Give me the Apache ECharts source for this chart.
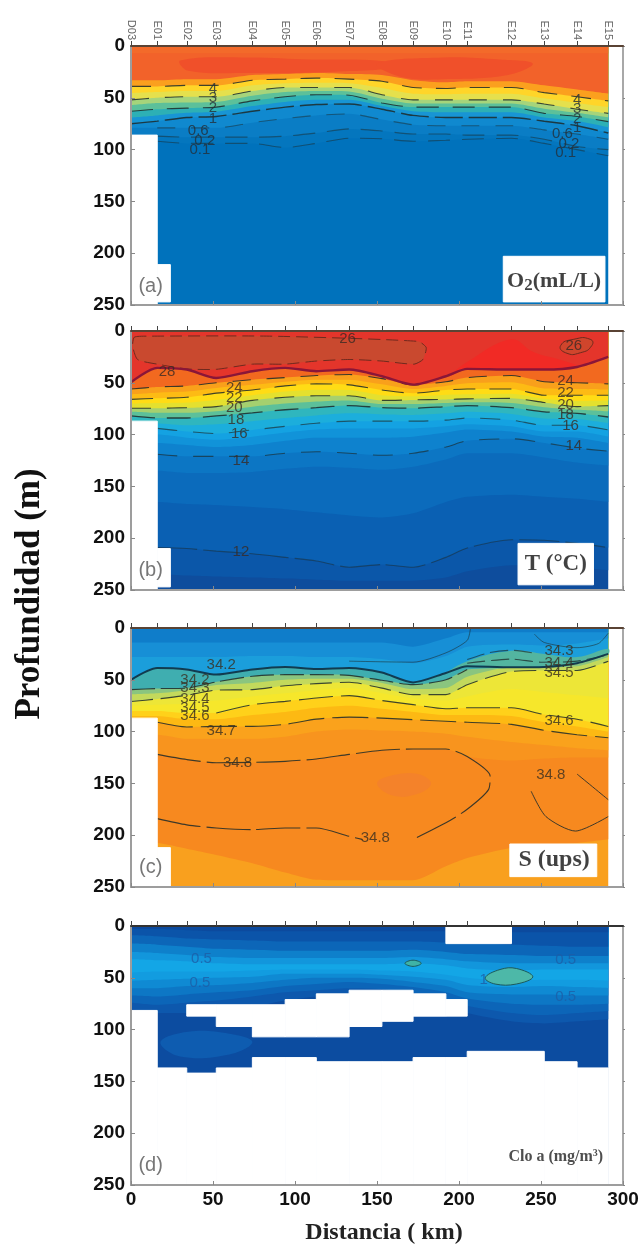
<!DOCTYPE html>
<html><head><meta charset="utf-8">
<style>html,body{margin:0;padding:0;background:#fff}#c{width:642px;height:1245px;filter:blur(0.6px)}</style>
<script src="https://cdn.jsdelivr.net/npm/echarts@6/dist/echarts.min.js"></script>
</head><body><div id="c"></div>
<script>
const stationKm=[0,16,34,52,74,94,113,133,153,172,192,205,232,252,272,291];
const stationNames=['D03','E01','E02','E03','E04','E05','E06','E07','E08','E09','E10','E11','E12','E13','E14','E15'];

// ---- (a) O2: depth (m) of each isoline per station
const o01=[92,92,94,94,94,98,94,89,89.5,92,91,90,89,94,100,106];
const o02=[87,87,88,88,88,87,84,80,82,85,85,86,86,90,97,100];
const o06=[79,79,79,79,74,70,67,65.5,71,76,77,77,77,81,85,90];
const o1=[75,72.5,69,68,63,59,56.5,56,61,67,69,69,69,72.6,77,84];
const o15=[69,67,64.5,63.5,58,54,52,52,58,63,64,64,64,69,72.5,78.5];
const o2=[63,61,60,59,53,49,47,47.5,55,59,59,59,59,65,68,73];
const o25=[57,55,54.5,54,48,44.5,43.5,44,51,55.5,55.5,55.5,55.5,60.5,64.5,69];
const o3=[52,50,49,49,43.5,40,40,40,47,52,52,52,52,56,61,65];
const o35=[45.5,44.5,43.5,43.5,38,36,35.5,36,40.5,46,46.5,46,46,50.5,55,59];
const o4=[39,39,38,38,33,32,31,32,34,40,41,40,40,45,49,53];
const o45=[33,33,32,32,28,27,26,27,28,33,35,34,34,38,42,46];
const oTop=[7,7,7,7,7,7,7,7,7,7,7,7,7,7,7,7];
const oPatches=[[[30,14],[70,11],[110,13],[150,14],[165,20],[120,25],[70,26],[35,24]],[[150,17],[190,11],[225,13],[245,17],[230,28],[190,32],[165,30]]];
const oLabels=[[50,41,'4'],[50,50,'3'],[50,60,'2'],[50,70,'1'],[41,82,'0.6'],[45,92,'0.2'],[42,100,'0.1'],[272,52,'4'],[272,61,'3'],[272,70,'2'],[272,79,'1'],[263,85,'0.6'],[267,94,'0.2'],[265,103,'0.1']];
const oBoxes=[[0,16,86,250],[16,24,211,247],[227,289,203,247]];

// ---- (b) Temperature
const tDeep=[235,235,236,237,238,239,240,241,241,241,238,232,226,226,228,231];
const t12=[209,209,210,212.5,215,218.5,222,228,225.5,228,218.5,209.5,201.5,202,205,209];
const t13=[165,165,167,168,170,172,175,178,180,176,165,160,158,160,162,165];
const t135=[135,135,137,137,136,133,131,132,134,131,124,118,118,122,127,130];
const t14=[119,119,121,121,121,118,116.5,118,120,118,112,106,104,108,113,116];
const t15=[108,108,110,112,110,106,103,103,103,102,98,95,97,102,103,108];
const t155=[100,100,103,105,102,98,95,94,94,94,92,90,92,97,97,102];
const t16=[94,94,97,99,95.5,92,89,87,87,87,86,84,86,91,91,95.5];
const t17=[88,89,91,90,87,84,81.5,79.5,80.5,81,79.5,78,80,84.5,85,89];
const t18=[82,84,84,82,79,76,74,72,74,74.5,73,72,74,78,79.5,83];
const t19=[78,79,79,77.5,73,70,68,67,70.5,70.5,69.5,68.8,69.5,73.5,76,77.5];
const t20=[74.5,74.5,74,73,67,64,62.5,62.5,67,66.5,66,65.5,65,69,73,72];
const t21=[70,69.5,69,66.5,62,58.5,56.8,57,62,63,61.5,61,60.5,65.5,67.5,67];
const t22=[66,65,64,60,57,53,51,52,57,60,57,56,56,62,62,62];
const t23=[61,59.5,58.5,55,52,49,47,47,51.5,56,53,50.5,49.5,55.5,56,56.5];
const t24=[56,54,53,50,47,45,43,42,46,52,49,45,43,49,50,51];
const t28=[49.5,35.6,37.2,45.3,38.8,35.6,38.8,37.2,43.7,51.8,43.7,36.6,37.2,37.2,34.7,25];
const tLoop=[[2,6],[10,5],[86,5],[175,10],[180,16],[178,27.5],[172.6,32],[153,29],[133,27.5],[113,29],[94,32],[74,32],[52,37],[34,36.6],[16,32],[4,27.5],[1,14.5]];
const tLoopRight=[[262,14],[270,8],[280,8],[281,14],[274,21],[265,21]];
const tBump=[[195,43],[205,30],[232,8],[245,20],[262,28],[272,34],[262,37],[232,37],[205,37]];
const tLabels=[[132,8,'26'],[270,14.5,'26'],[22,39,'28'],[63,55,'24'],[63,65,'22'],[63,74.5,'20'],[64,86,'18'],[66,99,'16'],[67,125,'14'],[67,213.5,'12'],[265,48,'24'],[265,60,'22'],[265,71,'20'],[265,81,'18'],[268,92,'16'],[270,111,'14']];
const tBoxes=[[0,16,87,250],[16,24,210,247],[236,282,205,245]];

// ---- (c) Salinity
const sWedge=[207,207.5,213,219,227,236,243,243.5,243.5,243.5,230,222,212,209,207.5,204];
const s81=[122,122,127,130,130,129,126,122,118,117,117,124,128,126,125,125];
const s75=[103,103,107,107,107,105,100,98,99,100,102,105,110,113,116,118];
const s7=[91,91,95.5,95,95,93,88,86,87,88.5,90,91,93,98.8,103,106];
const s65=[85,85,88,88,84,81,77,75,78,81,84,84,85,91,95,100];
const s6=[80,80,82,82,74,70.8,67.6,65.3,70,74,78,77,77,83.6,88,95];
const s55=[75,74,73,70,66,63,60,58,63,68,70,66,59,62,65,68];
const s5=[71,68.5,65,60,59.5,55.7,53.7,52.4,58,64.3,64.3,54.7,42,41,41,32];
const s45=[64,63,60,55,53,50,49,49,53,59,58,47,38,38,37,28];
const s4=[59.5,58.5,58,52,46.6,45,45,45.7,50.5,54.7,50,40,38.6,37.6,34,25];
const s2=[50,38.6,40,45,40,37.6,39.6,38.6,43,52.5,43.4,37,38,37.6,34,25];
const sUp=[28,28,28,28,27,27,28,28,30,34,27,18,16,17,15,10];
const sTop=[14,14,14,14,14,14,14,14,14,18,10,4,4,4,4,4];
const sTeal=[[192,44],[205,32],[232,22],[252,25],[272,28],[291,20],[291,25],[272,34],[252,37],[232,38],[205,37]];
const sCore=[[150,150],[160,142],[175,141],[183,150],[175,160],[160,162]];
const sThin=[[133,32],[172,33],[192,24],[205,12],[207,0]];
const sThinR=[[246,6],[252,14],[272,19],[285,15],[291,5]];
const sUpperR=[[205,30.5],[218,24],[232,21.5],[245,24]];
const sMidR=[[205,34],[232,30],[250,33],[272,32],[291,26]];
const s8Upper=[[16,122],[34,127],[52,130],[74,129.7],[94,128.7],[113,126.4],[133,122],[153,118],[172,116.8],[192,116.8],[205,124],[219,143],[218,156],[205,175],[192,188],[172,204]];
const s8Lower=[[16,184],[34,190],[52,193],[74,194.6],[94,193],[113,193],[133,201],[141,204]];
const s8Right=[[272,141],[291,165.7]];
const s8RightB=[[291,182],[271,196],[253,182],[244,157.6]];
const sLabels=[[55,35.4,'34.2'],[39,50,'34.2'],[39,58,'34.3'],[39,68,'34.4'],[39,77,'34.5'],[39,85,'34.6'],[55,99,'34.7'],[65,130,'34.8'],[149,203,'34.8'],[256,142,'34.8'],[261,90,'34.6'],[261,22,'34.3'],[261,34,'34.4'],[261,43,'34.5']];
const sBoxes=[[0,16,87,250],[16,24,212,250],[231,284,208.5,240]];

// ---- (d) Chlorophyll a
const cL5=[80,84,84,82,78,72,68,66,66,70,76,84,92,94,92,90];
const cL4=[74,76,74,72,68,64,62,60,61,65,70,77,84,86,84,82];
const cL3=[67,68,66,64,62,58,56,54,56,59,64,70,75,76,76,75];
const cL2=[60,60,58,57,55,52,50,50,51,54,58,64,66,66,67,67];
const cL1=[53,52,51,50,49,46,46,46,47,49,52,57,59,58,59,60];
const cCore=[45,44,44,44,43,42,42,42,43,44,47,50,53,52,52,53];
const cU1=[32,33,34,36,37,37,37,37,37,36,38,41,43,42,42,42];
const cU2=[25,26,28,30,31,31,31,31,31,30,32,34,36,36,36,36];
const cU3=[17,18,20,22,23,24,24,24,24,23,25,27,28,29,29,29];
const cU4=[9,10,12,13,14,15,15,15,15,15,16,17,18,19,20,20];
const cU5=[3,3,4,5,5,5,5,5,5,5,5,5,6,6,6,6];
const cLobe=[[18,112],[35,102],[60,104],[74,112],[60,124],[30,126]];
const cPatch1=[[167,36],[172,33],[177,36],[172,39]];
const cPatch2=[[216,50],[225,42],[235,41],[245,49],[235,56],[222,56]];
// bottom of sampled water per station interval; white blob top/bottom (null = none)
const cBottom=[81.5,137,142,137,127,127,131,131,131,127,127,121,121,131,137];
const cBlobTop=[null,null,76,76,76,71,65.5,62,62,65.5,71,null,null,null,null];
const cBlobBot=[null,null,87,97,107,107,107,97,92,87,87,null,null,null,null];
const cLabels=[[43,31.6,'0.5'],[42,55,'0.5'],[265,33,'0.5'],[265,68.6,'0.5'],[215,52,'1']];

const INK='#1d2a2a';
const tops=[46,331,628,926];
const grids=tops.map(t=>({left:131,right:19,top:t,height:259,containLabel:false}));
const xAxes=[],yAxes=[];
tops.forEach((t,i)=>{
  const last=i===3;
  xAxes.push({gridIndex:i,type:'value',min:0,max:300,interval:50,position:'bottom',z:2500,splitLine:{show:false},
    axisLine:{show:true,onZero:false,lineStyle:{color:'#9d9d9d',width:2}},
    axisTick:{show:true,inside:true,length:4,lineStyle:{color:'#888'}},
    axisLabel:{show:last,color:'#111',fontWeight:'bold',fontSize:19,fontFamily:'Liberation Sans',margin:5}});
  xAxes.push({gridIndex:i,type:'value',min:0,max:300,position:'top',z:2501,splitLine:{show:false},
    axisLine:{show:true,onZero:false,lineStyle:{color:i===3?'#333':'#5a4334',width:2}},
    axisTick:{show:true,length:5,customValues:stationKm,lineStyle:{color:'#444'}},
    axisLabel:{show:i===0,customValues:stationKm,rotate:90,color:'#666',fontSize:11,fontFamily:'Liberation Sans',margin:6,
      formatter:v=>stationNames[stationKm.indexOf(v)]||''}});
  yAxes.push({gridIndex:i,type:'value',min:0,max:250,interval:50,inverse:true,position:'left',z:2500,splitLine:{show:false},
    axisLine:{show:true,onZero:false,lineStyle:{color:'#9d9d9d',width:2}},
    axisTick:{show:true,inside:true,length:4,lineStyle:{color:'#888'}},
    axisLabel:{color:'#111',fontWeight:'bold',fontSize:19,fontFamily:'Liberation Sans',margin:6}});
  yAxes.push({gridIndex:i,type:'value',min:0,max:250,interval:50,inverse:true,position:'right',z:2500,splitLine:{show:false},
    axisLine:{show:true,onZero:false,lineStyle:{color:'#a8a8a8',width:2}},
    axisTick:{show:true,inside:false,length:2,lineStyle:{color:'#888'}},axisLabel:{show:false}});
});

let zc=2;
const series=[];
const ax=g=>({xAxisIndex:g*2,yAxisIndex:g*2});
const pts=a=>a.map((d,k)=>[stationKm[k],d]);
function band(g,arr,color){series.push({type:'line',...ax(g),z:zc++,silent:true,animation:false,symbol:'none',smooth:0.25,
  data:pts(arr),lineStyle:{width:0},areaStyle:{origin:'start',color,opacity:1}});}
function full(g,color){band(g,new Array(16).fill(250),color);}
function contour(g,data,o={}){series.push({type:'line',...ax(g),z:1000+zc++,silent:true,animation:false,symbol:'none',smooth:o.smooth??0.25,
  data,lineStyle:{color:o.color||INK,width:o.width||1.1,type:o.type||[14,7],opacity:o.opacity??0.85}});}
function poly(g,list,fill,stroke,smooth=0.4,lineDash){series.push({type:'custom',...ax(g),z:zc++,silent:true,animation:false,
  encode:{x:0,y:1},data:list.map(p=>p[0]),clip:true,
  renderItem:(pa,api)=>({type:'polygon',shape:{points:list[pa.dataIndex].map(p=>api.coord(p)),smooth},
    style:{fill,stroke:stroke||null,lineWidth:stroke?1:0,lineDash}})});}
function rects(g,rows,fill,z){series.push({type:'custom',...ax(g),z:z,silent:true,animation:false,
  encode:{x:[0,1],y:[2,3]},data:rows,clip:false,
  renderItem:(pa,api)=>{const a=api.coord([api.value(0),api.value(2)]),b=api.coord([api.value(1),api.value(3)]);
    return{type:'rect',shape:{x:a[0],y:a[1],width:b[0]-a[0],height:b[1]-a[1]},style:{fill,stroke:fill,lineWidth:1}};}});}
function labels(g,rows,o){series.push({type:'scatter',...ax(g),z:3000,silent:true,animation:false,symbolSize:0,data:rows,
  label:{show:true,position:'inside',formatter:p=>p.data[2],color:'#1f2a2a',fontSize:15,fontFamily:'Liberation Sans',...o}});}

// (a)
full(0,'#0072BC');
[[o01,'#0476BE'],[o02,'#0A7DC5'],[o06,'#1089CF'],[o1,'#1895D4'],[o15,'#2DB0B5'],[o2,'#5CC09A'],[o25,'#A6D47B'],[o3,'#E5E04D'],[o35,'#FFD529'],[o4,'#FBA01E'],[o45,'#F2622A']].forEach(b=>band(0,b[0],b[1]));
poly(0,oPatches,'#F0502A');
band(0,oTop,'#F36A2A');
contour(0,pts(o4),{type:[20,14]});contour(0,pts(o3),{type:[18,16]});contour(0,pts(o2),{type:[22,14]});contour(0,pts(o1),{type:[28,6],width:1.4});
contour(0,pts(o06).slice(1),{type:[18,16],opacity:.5});contour(0,pts(o02).slice(1),{type:[22,12],opacity:.5});contour(0,pts(o01).slice(1),{type:[22,12],opacity:.5});
rects(0,oBoxes,'#fff',2000);
contour(0,[[16,250],[227,250]],{color:'#12305a',type:'solid',width:2,smooth:0,opacity:1});
labels(0,oLabels,{color:'#23303a'});
labels(0,[[12,232,'(a)']],{fontSize:20,color:'#555'});
labels(0,[[258,227,'']],{formatter:()=>'{a|O}{s|2}{a|(mL/L)}',rich:{a:{fontFamily:'Liberation Serif',fontWeight:'bold',fontSize:22,color:'#111'},s:{fontFamily:'Liberation Serif',fontWeight:'bold',fontSize:17,color:'#111',padding:[9,0,0,0]}}});

// (b)
full(1,'#0E4D9D');
[[tDeep,'#0B57A9'],[t12,'#0A60B3'],[t13,'#0B6BBC'],[t135,'#0C76C4'],[t14,'#0E82CE'],[t15,'#1193D9'],[t155,'#14A2E2'],[t16,'#1CAEDC'],[t17,'#2FB6BE'],[t18,'#5CC09A'],[t19,'#A5D06F'],[t20,'#E4E02F'],[t21,'#FFDC15'],[t22,'#FDBB14'],[t23,'#F9A01B'],[t24,'#F2691F'],[t28,'#E4352B']].forEach(b=>band(1,b[0],b[1]));
poly(1,[tBump],'#F12A25');
poly(1,[tLoop],'#C9492F','#6f2a1e',0.2,[12,6]);
poly(1,[tLoopRight],'#D0452C','#6f2a1e',0.6);
contour(1,pts(t24),{type:[18,16]});contour(1,pts(t22),{type:[22,14]});contour(1,pts(t20),{type:[20,16]});contour(1,pts(t18),{type:[24,12],width:1.3});
contour(1,pts(t16).slice(1),{type:[20,16],opacity:.65});contour(1,pts(t14).slice(1),{type:[20,16],opacity:.65});contour(1,pts(t12).slice(1),{type:[40,6],opacity:.5});
contour(1,pts(t28),{type:'solid',width:2.4,color:'#8a1638',opacity:1});
rects(1,tBoxes,'#fff',2000);
contour(1,[[16,250],[236,250]],{color:'#12305a',type:'solid',width:2,smooth:0,opacity:1});
labels(1,tLabels,{color:'#3a2a24'});
labels(1,[[12,231,'(b)']],{fontSize:20,color:'#555'});
labels(1,[[259,225,'T (°C)']],{fontFamily:'Liberation Serif',fontWeight:'bold',fontSize:23,color:'#111'});

// (c)
full(2,'#F9A01E');
[[sWedge,'#F7891F'],[s81,'#F8941E'],[s75,'#FAA21C'],[s7,'#FDB913'],[s65,'#FFD11A'],[s6,'#F6E72B'],[s55,'#EDE637'],[s5,'#C3D95C'],[s45,'#8AC57F'],[s4,'#3FAEB0'],[s2,'#1B9EDB'],[sUp,'#178FD6'],[sTop,'#0F7DCA']].forEach(b=>band(2,b[0],b[1]));
poly(2,[sTeal],'#53B5A0');
poly(2,[sCore],'#F4822A');
contour(2,sThin,{type:'solid',width:1,opacity:.55});contour(2,sThinR,{type:'solid',width:1,opacity:.55});
contour(2,sUpperR,{type:[18,6],opacity:.65});contour(2,sMidR,{type:[18,6],opacity:.75});
contour(2,pts(s4).slice(0,12),{type:[24,6]});contour(2,pts(s5),{type:[22,8]});contour(2,pts(s6).slice(3),{type:[34,8]});
contour(2,pts(s7).slice(1),{type:[36,8]});contour(2,s8Upper,{type:[44,6]});contour(2,s8Lower,{type:[44,6]});contour(2,s8Right,{type:'solid',width:1});contour(2,s8RightB,{type:'solid',width:1});
contour(2,pts(s2),{type:'solid',width:2,color:'#10364a',opacity:.95});
rects(2,sBoxes,'#fff',2000);
labels(2,sLabels,{color:'#3a3020'});
labels(2,[[12,231,'(c)']],{fontSize:20,color:'#555'});
labels(2,[[258,224,'S (ups)']],{fontFamily:'Liberation Serif',fontWeight:'bold',fontSize:24,color:'#111'});

// (d)
full(3,'#0C4CA0');
poly(3,[cLobe],'#0E5CB0');
[[cL5,'#0D58AD'],[cL4,'#0C65B8'],[cL3,'#0D77C5'],[cL2,'#0F8AD3'],[cL1,'#129CE0'],[cCore,'#13A6E6'],[cU1,'#1296DC'],[cU2,'#0E80CB'],[cU3,'#0C66B8'],[cU4,'#0B54A9'],[cU5,'#0C4A9E']].forEach(b=>band(3,b[0],b[1]));
poly(3,[cPatch1],'#3FB3A6','#1d5a5a');
poly(3,[cPatch2],'#4DB8A8','#1d5a5a');
const dRects=[[292,300,0,250],[192,232,0,17]];
cBottom.forEach((b,k)=>dRects.push([stationKm[k],stationKm[k+1],b,250]));
cBlobTop.forEach((t,k)=>{if(t!==null)dRects.push([stationKm[k],stationKm[k+1],t,cBlobBot[k]]);});
rects(3,dRects,'#fff',2000);
labels(3,cLabels,{color:'#1d5ea6'});
labels(3,[[12,231,'(d)']],{fontSize:20,color:'#555'});
labels(3,[[259,223,'']],{formatter:()=>'{a|Clo a (mg/m}{s|3}{a|)}',rich:{a:{fontFamily:'Liberation Serif',fontWeight:'bold',fontSize:16,color:'#222'},s:{fontFamily:'Liberation Serif',fontWeight:'bold',fontSize:10,color:'#222',padding:[0,0,8,0]}}});

const chart=echarts.init(document.getElementById('c'),null,{width:642,height:1245});
chart.setOption({animation:false,backgroundColor:'#fff',grid:grids,xAxis:xAxes,yAxis:yAxes,series,
  graphic:[
    {type:'text',x:30,y:594,rotation:Math.PI/2,style:{text:'Profundidad (m)',font:'bold 35px "Liberation Serif"',fill:'#111',textAlign:'center',textVerticalAlign:'middle'}},
    {type:'text',x:384,y:1233,style:{text:'Distancia ( km)',font:'bold 24px "Liberation Serif"',fill:'#222',textAlign:'center',textVerticalAlign:'middle'}}
  ]});
</script></body></html>
